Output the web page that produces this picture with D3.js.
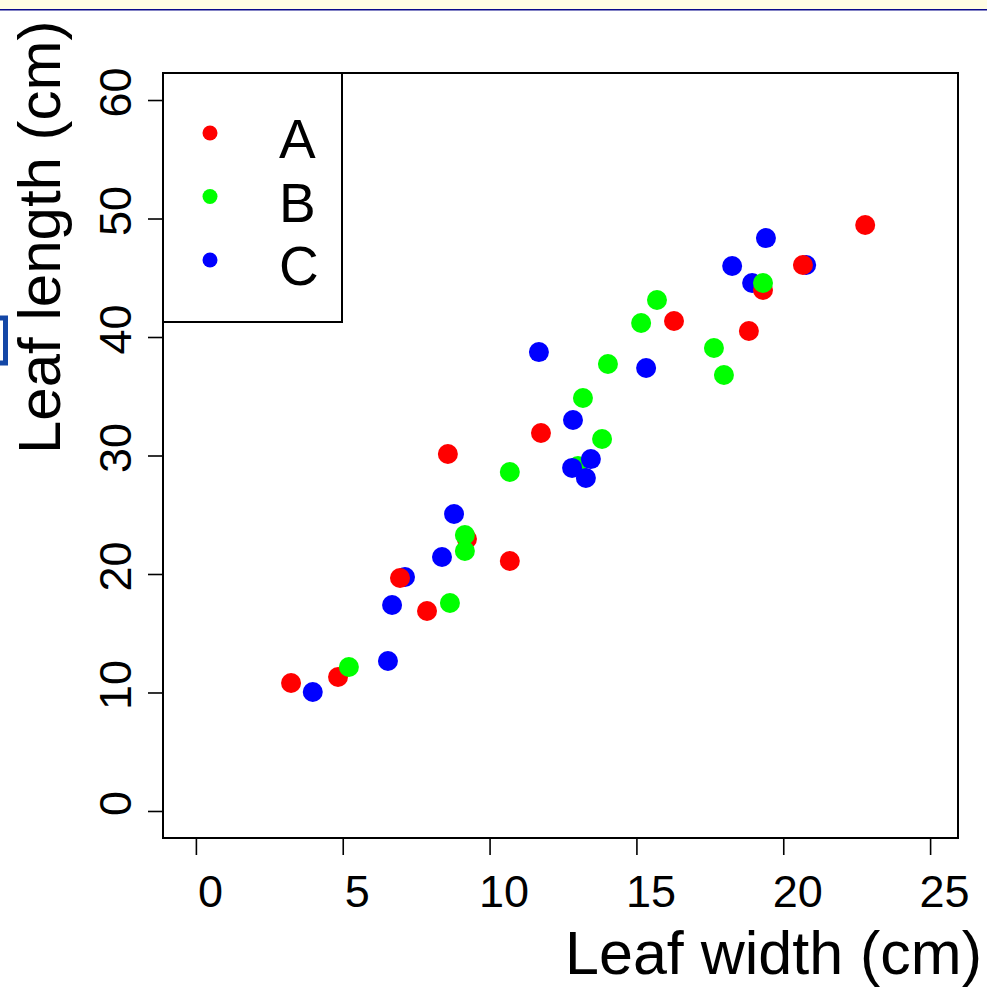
<!DOCTYPE html>
<html><head><meta charset="utf-8">
<script src="https://cdn.jsdelivr.net/npm/d3@7"></script>
<style>html,body{margin:0;padding:0;background:#fff;}svg{display:block;}</style>
</head><body>
<script>
// ---- data (drawing order) ----
const categories = ["A", "B", "C"];
const colors = ["#FF0000", "#00FF00", "#0000FF"];
const species = [
  "B",
  "C","C","C","C","C","C","C","C","C","C","C","C","C","C","C","C",
  "A","A","A","A","A","A","A","A","A","A","A","A","A",
  "B","B","B","B","B","B","B","B","B","B","B","B","B"
];
const leafWidth = [
  13.01,
  3.98, 6.54, 6.68, 7.12, 8.38, 8.79, 11.68, 12.84, 12.81, 13.28, 13.45, 15.33, 18.26, 18.94, 19.41, 20.78,
  3.24, 4.84, 6.95, 7.87, 8.58, 9.23, 10.69, 11.75, 16.28, 18.83, 19.31, 20.67, 22.79,
  5.21, 8.65, 9.16, 9.16, 10.69, 13.18, 13.83, 14.03, 15.16, 15.70, 17.64, 17.98, 19.31
];
const leafLength = [
  29.11,
  10.04, 12.66, 17.38, 19.75, 21.43, 25.06, 38.73, 33.0, 28.95, 28.10, 29.70, 37.38, 45.99, 44.56, 48.35, 46.08,
  10.80, 11.31, 19.66, 16.88, 30.13, 22.95, 21.10, 31.90, 41.35, 40.51, 43.97, 46.08, 49.45,
  12.15, 17.55, 23.29, 21.94, 28.61, 34.85, 31.39, 37.72, 41.18, 43.12, 39.07, 36.79, 44.56
];
const xTicks = [0, 5, 10, 15, 20, 25];
const yTicks = [0, 10, 20, 30, 40, 50, 60];
const xTitle = "Leaf width (cm)";
const yTitle = "Leaf length (cm)";

// ---- layout ----
const W = 987, H = 987;
const pLeft = 163, pRight = 958, pTop = 73, pBottom = 838;
const font = "'Liberation Sans', Arial, sans-serif";

const svg = d3.select("body").append("svg").attr("width", W).attr("height", H);

// top banner
svg.append("rect").attr("x", 0).attr("y", 0).attr("width", W).attr("height", 9).attr("fill", "#FFFDE3");
svg.append("rect").attr("x", 0).attr("y", 9).attr("width", W).attr("height", 1.5).attr("fill", "#0A0A8C");
// left edge mark
svg.append("rect").attr("x", -3).attr("y", 318).attr("width", 8.5).attr("height", 45)
  .attr("fill", "#fff").attr("stroke", "#1447A6").attr("stroke-width", 5);

const x = d3.scaleLinear().domain([-1.12, 25.95]).range([pLeft, pRight]);
const y = d3.scaleLinear().domain([-2.28, 62.28]).range([pBottom, pTop]);
const color = d3.scaleOrdinal().domain(categories).range(colors);

// x axis
const xAxis = svg.append("g").attr("transform", `translate(0,${pBottom})`)
  .call(d3.axisBottom(x).tickValues(xTicks).tickSize(17).tickSizeOuter(0).tickFormat(d3.format("d")));
xAxis.select(".domain").remove();
xAxis.selectAll(".tick line").attr("stroke", "#000").attr("stroke-width", 1.6);
xAxis.selectAll(".tick text").attr("font-family", font).attr("font-size", 45).attr("fill", "#000")
  .attr("dy", null).attr("y", 69).attr("x", 14);

// y axis
const yAxis = svg.append("g").attr("transform", `translate(${pLeft},0)`)
  .call(d3.axisLeft(y).tickValues(yTicks).tickSize(15).tickSizeOuter(0).tickFormat(d3.format("d")));
yAxis.select(".domain").remove();
yAxis.selectAll(".tick line").attr("stroke", "#000").attr("stroke-width", 1.6);
yAxis.selectAll(".tick text").attr("font-family", font).attr("font-size", 45).attr("fill", "#000")
  .attr("text-anchor", "middle").attr("dy", null).attr("x", null)
  .attr("transform", "translate(-32,-8) rotate(-90)").attr("y", 0);

// plot box
svg.append("rect").attr("x", pLeft).attr("y", pTop).attr("width", pRight - pLeft).attr("height", pBottom - pTop)
  .attr("fill", "none").attr("stroke", "#000").attr("stroke-width", 2);

// points
svg.append("g").selectAll("circle").data(d3.range(species.length)).join("circle")
  .attr("cx", i => x(leafWidth[i])).attr("cy", i => y(leafLength[i])).attr("r", 10)
  .attr("fill", i => color(species[i]));

// legend
const leg = svg.append("g");
leg.append("rect").attr("x", pLeft).attr("y", pTop).attr("width", 179).attr("height", 249)
  .attr("fill", "#fff").attr("stroke", "#000").attr("stroke-width", 2);
categories.forEach((c, k) => {
  leg.append("circle").attr("cx", 210).attr("cy", 133 + k * 63.5).attr("r", 7.5).attr("fill", color(c));
  leg.append("text").attr("x", 279).attr("y", 158 + k * 63.5).attr("font-family", font)
    .attr("font-size", 55).attr("fill", "#000").text(c);
});

// titles
svg.append("text").attr("x", 982).attr("y", 974).attr("text-anchor", "end")
  .attr("font-family", font).attr("font-size", 61).attr("fill", "#000").text(xTitle);
svg.append("text").attr("transform", "translate(60,454) rotate(-90)").attr("text-anchor", "start")
  .attr("font-family", font).attr("font-size", 60).attr("fill", "#000").text(yTitle);
</script>
</body></html>
